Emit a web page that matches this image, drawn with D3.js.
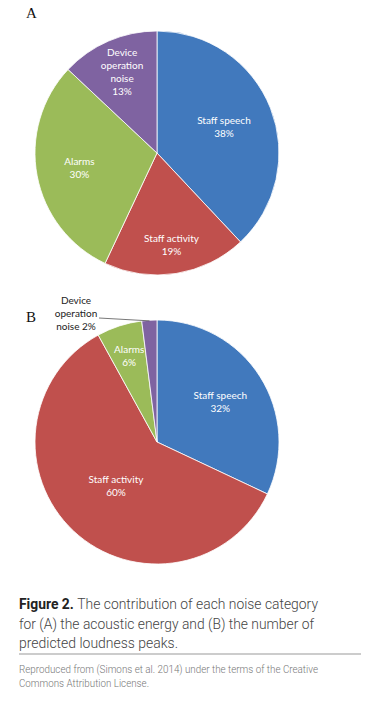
<!DOCTYPE html>
<html><head><meta charset="utf-8">
<script src="https://cdn.jsdelivr.net/npm/d3@7"></script>
<style>body{margin:0;background:#fff}svg{display:block}</style>
</head><body><svg id="c" width="370" height="709"></svg>
<script>
const categories = ["Staff speech","Staff activity","Alarms","Device operation noise"];
const valuesA = [38, 19, 30, 13];
const valuesB = [32, 60, 6, 2];
const colors = ["#4179BD","#C0504D","#9BBB59","#7F63A1"];
const labelsA = [["Staff speech","38%"],["Staff activity","19%"],["Alarms","30%"],["Device","operation","noise","13%"]];
const labelsB = [["Staff speech","32%"],["Staff activity","60%"],["Alarms","6%"],["Device","operation","noise 2%"]];
const captionLines = ["The contribution of each noise category","for (A) the acoustic energy and (B) the number of","predicted loudness peaks."];
const creditLines = ["Reproduced from (Simons et al. 2014) under the terms of the Creative","Commons Attribution License."];

const svg = d3.select("#c");
const color = d3.scaleOrdinal().domain(categories).range(colors);
const pie = d3.pie().sort(null).value(d => d.v);
const R = 122;
const arc = d3.arc().innerRadius(0).outerRadius(R);

function drawPie(cx, cy, values, labels, letter, letterY, labelR, outside) {
  const g = svg.append("g").attr("transform", `translate(${cx},${cy})`);
  const data = pie(categories.map((c,i)=>({c, v: values[i], lab: labels[i]})));
  g.selectAll("path").data(data).join("path")
    .attr("d", arc).attr("fill", d => color(d.data.c))
    .attr("stroke", "#fff").attr("stroke-width", 0.8);
  data.forEach((d,i) => {
    if (outside && outside[i]) return;
    const [x,y] = d3.arc().innerRadius(labelR[i]).outerRadius(labelR[i]).centroid(d);
    const n = d.data.lab.length;
    const t = g.append("text").attr("text-anchor","middle")
      .attr("font-family","Lato, 'Open Sans', sans-serif").attr("font-size",10)
      .attr("fill","#fff");
    d.data.lab.forEach((s,k) => {
      t.append("tspan").attr("x", x).attr("y", y + (k - (n-1)/2)*13 + 3.5).text(s);
    });
  });
  svg.append("text").attr("x", 26).attr("y", letterY)
    .attr("font-family","'Liberation Serif', serif").attr("font-size",15).attr("fill","#111").text(letter);
  return {g, data};
}

drawPie(157, 153, valuesA, labelsA, "A", 18, [72, 93, 79, 88]);
const B = drawPie(157, 442, valuesB, labelsB, "B", 322, [75, 60, 90, 0], [false,false,false,true]);

// outside label for the small slice in B
const dev = B.data[3];
const a = (dev.startAngle + dev.endAngle)/2;
const p1 = [157 + Math.sin(a)*R*0.995, 442 - Math.cos(a)*R*0.995];
svg.append("line").attr("x1", 99).attr("y1", 318).attr("x2", p1[0]).attr("y2", p1[1])
  .attr("stroke","#555").attr("stroke-width",0.8);
const ot = svg.append("text").attr("text-anchor","middle")
  .attr("font-family","Lato, 'Open Sans', sans-serif").attr("font-size",10).attr("fill","#222");
labelsB[3].forEach((s,k)=> ot.append("tspan").attr("x",76).attr("y",304 + k*13).text(s));

// caption
const cap = svg.append("g").attr("font-family","Roboto, sans-serif").attr("fill","#444").attr("font-weight",300);
const l1 = cap.append("text").attr("x",19).attr("y",609).attr("font-size",14.5)
  .attr("textLength",299).attr("lengthAdjust","spacingAndGlyphs");
l1.append("tspan").attr("font-weight","bold").attr("fill","#222").text("Figure 2. ");
l1.append("tspan").text(captionLines[0]);
cap.append("text").attr("x",19).attr("y",629).attr("font-size",14.5)
  .attr("textLength",295).attr("lengthAdjust","spacingAndGlyphs").text(captionLines[1]);
cap.append("text").attr("x",19).attr("y",648).attr("font-size",14.5)
  .attr("textLength",159).attr("lengthAdjust","spacingAndGlyphs").text(captionLines[2]);
svg.append("line").attr("x1",19).attr("x2",361).attr("y1",654).attr("y2",654)
  .attr("stroke","#bbb").attr("stroke-width",1.5);
const cr = svg.append("g").attr("font-family","Roboto, sans-serif").attr("fill","#777").attr("font-size",10).attr("font-weight",300);
cr.append("text").attr("x",19).attr("y",673).attr("textLength",299).attr("lengthAdjust","spacingAndGlyphs").text(creditLines[0]);
cr.append("text").attr("x",19).attr("y",687).attr("textLength",130).attr("lengthAdjust","spacingAndGlyphs").text(creditLines[1]);
</script></body></html>
